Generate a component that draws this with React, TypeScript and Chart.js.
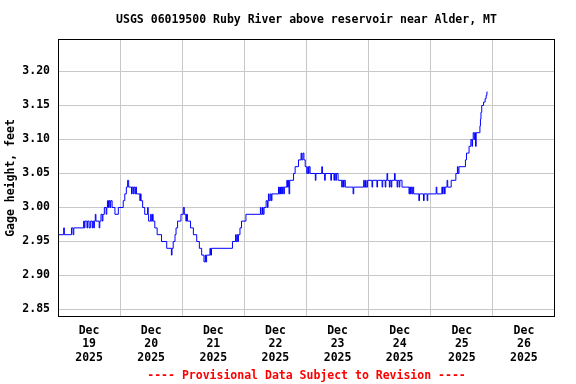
import { useEffect, useRef } from 'react';
import { Chart, registerables } from 'chart.js';

Chart.register(...registerables);

const TITLE = 'USGS 06019500 Ruby River above reservoir near Alder, MT';
const Y_TITLE = 'Gage height, feet';
const FOOTER = '---- Provisional Data Subject to Revision ----';
const MONTH = 'Dec';
const YEAR = '2025';
const DAY_LABELS = ['19', '20', '21', '22', '23', '24', '25', '26'];
const Y_TICKS = [2.85, 2.9, 2.95, 3.0, 3.05, 3.1, 3.15, 3.2];

// hours since Dec 19 2025 00:00 at which the reading changes
const hours = [
  0.0, 2.2, 2.45, 5.2, 5.8, 6.1, 9.9, 10.15, 10.4, 11.2, 11.45, 12.0, 12.5, 13.2, 13.45, 13.8, 14.05,
  14.4, 14.65, 15.9, 16.15, 16.6, 17.1, 17.35, 17.9, 18.6, 18.85, 19.1, 19.5, 19.75, 20.1, 20.35,
  20.9, 22.0, 23.3, 25.2, 25.8, 26.4, 26.9, 27.3, 28.4, 28.65, 29.1, 29.35, 29.8, 30.05, 30.3,
  31.6, 31.85, 32.1, 32.7, 33.5, 34.6, 34.85, 35.0, 35.8, 36.05, 36.5, 36.75, 37.4, 38.3, 40.0,
  42.0, 43.8, 44.05, 44.5, 45.2, 45.6, 46.2, 47.5, 48.4, 48.8, 49.4, 49.65, 50.0, 51.2, 52.3,
  53.6, 54.6, 55.5, 56.4, 56.9, 57.1, 57.4, 58.7, 58.95, 59.3, 67.4, 68.6, 68.85, 69.2, 69.45,
  69.7, 70.3, 70.9, 72.6, 78.2, 78.45, 79.0, 79.25, 79.6, 80.4, 80.9, 81.15, 81.3, 81.55, 82.0,
  82.4, 82.65, 85.2, 85.45, 85.7, 85.95, 86.2, 86.45, 86.7, 87.2, 87.45, 88.4, 88.65, 89.0,
  89.25, 89.5, 91.0, 91.6, 92.9, 93.9, 94.15, 94.6, 95.0, 95.5, 96.1, 96.5, 96.75, 97.0, 97.4,
  99.4, 99.65, 101.9, 102.15, 103.0, 103.25, 105.4, 105.65, 106.6, 106.85, 107.3, 107.55, 108.2,
  109.6, 109.85, 110.3, 110.55, 111.0, 114.0, 114.25, 118.1, 118.35, 118.8, 119.05, 119.6,
  121.3, 121.55, 123.2, 123.45, 125.2, 125.45, 126.4, 126.65, 127.1, 127.35, 128.0, 128.25,
  128.7, 128.95, 130.0, 130.25, 131.0, 131.25, 131.8, 132.05, 132.9, 135.6, 135.85, 136.2,
  136.45, 136.8, 137.05, 137.4, 139.4, 139.65, 141.2, 141.45, 142.6, 142.85, 146.1, 146.35,
  148.3, 148.55, 148.8, 149.3, 149.55, 150.3, 150.55, 151.9, 153.7, 154.3, 154.55, 154.9,
  157.4, 157.8, 158.8, 159.5, 159.9, 160.15, 160.4, 160.8, 161.05, 161.3, 161.55, 163.0,
  163.2, 163.4, 163.7, 164.4, 165.0, 165.4, 165.7, 165.9,
];

// gage height, feet
const gageFeet = [
  2.96, 2.97, 2.96, 2.97, 2.96, 2.97, 2.98, 2.97, 2.98, 2.97, 2.98, 2.97, 2.98, 2.97, 2.98, 2.97, 2.98,
  2.99, 2.98, 2.97, 2.98, 2.99, 2.98, 2.99, 3.0, 2.99, 3.0, 3.01, 3.0, 3.01, 3.0, 3.01,
  3.0, 2.99, 3.0, 3.01, 3.02, 3.03, 3.04, 3.03, 3.02, 3.03, 3.02, 3.03, 3.02, 3.03, 3.02,
  3.01, 3.02, 3.01, 3.0, 2.99, 3.0, 2.99, 2.98, 2.99, 2.98, 2.99, 2.98, 2.97, 2.96, 2.95,
  2.94, 2.93, 2.94, 2.95, 2.96, 2.97, 2.98, 2.99, 3.0, 2.99, 2.98, 2.99, 2.98, 2.97, 2.96,
  2.95, 2.94, 2.93, 2.92, 2.93, 2.92, 2.93, 2.94, 2.93, 2.94, 2.95, 2.96, 2.95, 2.96, 2.95,
  2.96, 2.97, 2.98, 2.99, 3.0, 2.99, 3.0, 2.99, 3.0, 3.01, 3.0, 3.01, 3.02, 3.01, 3.02,
  3.01, 3.02, 3.03, 3.02, 3.03, 3.02, 3.03, 3.02, 3.03, 3.02, 3.03, 3.04, 3.03, 3.04,
  3.02, 3.04, 3.05, 3.06, 3.07, 3.08, 3.07, 3.08, 3.07, 3.06, 3.05, 3.06, 3.05, 3.06, 3.05,
  3.04, 3.05, 3.06, 3.05, 3.04, 3.05, 3.04, 3.05, 3.04, 3.05, 3.04, 3.05, 3.04,
  3.03, 3.04, 3.03, 3.04, 3.03, 3.02, 3.03, 3.04, 3.03, 3.04, 3.03, 3.04,
  3.03, 3.04, 3.03, 3.04, 3.03, 3.04, 3.03, 3.04, 3.05, 3.04, 3.03, 3.04,
  3.03, 3.04, 3.05, 3.04, 3.03, 3.04, 3.03, 3.04, 3.03, 3.02, 3.03, 3.02,
  3.03, 3.02, 3.03, 3.02, 3.01, 3.02, 3.01, 3.02, 3.01, 3.02, 3.03, 3.02,
  3.03, 3.02, 3.03, 3.02, 3.03, 3.04, 3.03, 3.04, 3.05, 3.06, 3.05, 3.06,
  3.07, 3.08, 3.09, 3.1, 3.09, 3.1, 3.11, 3.1, 3.11, 3.09, 3.11, 3.12,
  3.13, 3.14, 3.15, 3.155, 3.16, 3.165, 3.17, 3.17,
];

const FONT_FAMILY = "'DejaVu Sans Mono', 'Liberation Mono', monospace";
const GRID = '#c8c8c8';

const framePlugin = {
  id: 'frame',
  afterDatasetsDraw(chart: any) {
    const { ctx, chartArea } = chart;
    const { left, top, right, bottom } = chartArea;
    ctx.save();
    ctx.strokeStyle = '#000000';
    ctx.lineWidth = 1;
    ctx.strokeRect(left + 0.5, top + 0.5, right - left - 1, bottom - top - 1);
    ctx.restore();
  },
};

export default function App() {
  const canvasRef = useRef<HTMLCanvasElement | null>(null);

  useEffect(() => {
    const canvas = canvasRef.current;
    if (!canvas) return;
    const points = hours.map((h, i) => ({ x: h, y: gageFeet[i] }));
    const xTickValues: number[] = [];
    DAY_LABELS.forEach((_, i) => {
      if (i > 0) xTickValues.push(i * 24);
      xTickValues.push(i * 24 + 12);
    });
    const xMax = DAY_LABELS.length * 24;

    const chart = new Chart(canvas, {
      type: 'line',
      data: {
        datasets: [
          {
            data: points,
            borderColor: '#0000ff',
            borderWidth: 1,
            pointRadius: 0,
            fill: false,
            stepped: 'before',
          },
        ],
      },
      options: {
        animation: false,
        responsive: false,
        layout: { padding: { left: 0, right: 21, top: 0, bottom: 0 } },
        plugins: {
          legend: { display: false },
          tooltip: { enabled: false },
          title: {
            display: true,
            text: TITLE,
            color: '#000000',
            fullSize: false,
            font: { family: FONT_FAMILY, size: 11.5, weight: 'bold', lineHeight: 1.2 },
            padding: { top: 13, bottom: 12.2 },
          },
          subtitle: {
            display: true,
            position: 'bottom',
            text: FOOTER,
            color: '#ff0000',
            fullSize: false,
            font: { family: FONT_FAMILY, size: 11.5, weight: 'bold', lineHeight: 1.2 },
            padding: { top: 4.1, bottom: 1.1 },
          },
        },
        scales: {
          x: {
            type: 'linear',
            min: 0,
            max: xMax,
            afterBuildTicks: (axis: any) => {
              axis.ticks = xTickValues.map((v) => ({ value: v }));
            },
            afterFit: (axis: any) => {
              axis.height = 48;
            },
            border: { display: false },
            grid: {
              drawTicks: false,
              color: (ctx: any) =>
                ctx.tick && ctx.tick.value % 24 === 0 ? GRID : 'rgba(0,0,0,0)',
            },
            ticks: {
              autoSkip: false,
              maxRotation: 0,
              minRotation: 0,
              padding: 7,
              color: '#000000',
              font: { family: FONT_FAMILY, size: 11.5, weight: 'bold', lineHeight: '13.6px' },
              callback: (value: any) => {
                const v = Number(value);
                if (v % 24 !== 12) return '';
                return [MONTH, DAY_LABELS[Math.floor(v / 24)], YEAR];
              },
            },
          },
          y: {
            type: 'linear',
            min: 2.83897,
            max: 3.24779,
            afterBuildTicks: (axis: any) => {
              axis.ticks = Y_TICKS.map((v) => ({ value: v }));
            },
            afterFit: (axis: any) => {
              axis.width = 58;
            },
            border: { display: false },
            grid: { drawTicks: false, color: GRID },
            ticks: {
              padding: 8,
              color: '#000000',
              font: { family: FONT_FAMILY, size: 11.5, weight: 'bold' },
              callback: (value: any) => Number(value).toFixed(2),
            },
            title: {
              display: true,
              text: Y_TITLE,
              color: '#000000',
              font: { family: FONT_FAMILY, size: 11.5, weight: 'bold', lineHeight: 1.2 },
              padding: { top: 4, bottom: 0 },
            },
          },
        },
      },
      plugins: [framePlugin],
    });

    return () => {
      chart.destroy();
    };
  }, []);

  return (
    <div
      style={{
        position: 'absolute',
        left: 0,
        top: 0,
        width: 576,
        height: 384,
        background: '#ffffff',
      }}
    >
      <canvas ref={canvasRef} width={576} height={384} style={{ display: 'block' }} />
    </div>
  );
}
